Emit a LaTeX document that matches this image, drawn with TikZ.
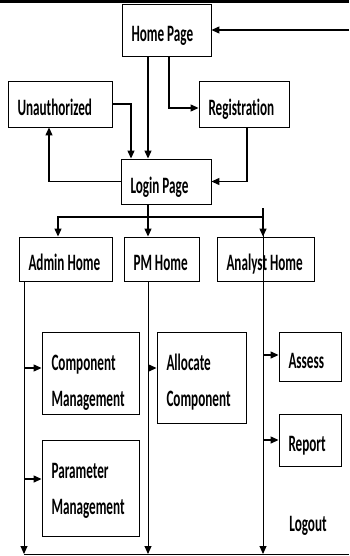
\documentclass[tikz,border=0pt]{standalone}
\usepackage{fontspec}
\newfontfamily\boxfont{Carlito}[FakeStretch=0.56,Ligatures=NoCommon]
\usetikzlibrary{arrows.meta}

\begin{document}
\begin{tikzpicture}[x=1pt,y=-1pt,>={Triangle[length=8pt,width=7pt]},
  font=\boxfont\bfseries\fontsize{23.5}{36}\selectfont,
  box/.style={draw,line width=0.9pt,inner xsep=9.5pt,align=flush left,text height=23pt,text depth=0pt},
  bigbox/.style={draw,line width=0.9pt,inner xsep=9.5pt,align=flush left,text height=14pt,text depth=34pt},
  link/.style={->,line width=1.3pt},
  trunk/.style={->,line width=1pt}]
\useasboundingbox (0,0) rectangle (349,556);
% frame line at the top
\draw[line width=2.5pt] (0,1.5) -- (349,1.5);
% pages
\node[box,text width=70pt,minimum height=52pt] (home) at (166.5,30) {Home Page};
\node[box,text width=85pt,minimum height=46pt] (unauth) at (60,104) {Unauthorized};
\node[box,text width=71pt,minimum height=46pt] (reg) at (244,104) {Registration};
\node[box,text width=71pt,minimum height=45pt] (login) at (166,181.5) {Login Page};
\node[box,text width=74pt,minimum height=44pt] (admin) at (65.5,259) {Admin Home};
\node[box,text width=56pt,minimum height=44pt] (pm) at (161.5,259) {PM Home};
\node[box,text width=78pt,minimum height=44pt] (analyst) at (265.5,259) {Analyst Home};
\node[bigbox,text width=78pt,minimum height=82pt,text depth=20pt] (comp) at (90.5,373) {Component\\Management};
\node[bigbox,text width=70pt,minimum height=91pt,text depth=29pt] (alloc) at (201.5,377.5) {Allocate\\Component};
\node[bigbox,text width=78pt,minimum height=96pt] (param) at (90.5,488) {Parameter\\Management};
\node[box,text width=43pt,minimum height=49pt] (assess) at (310,356.5) {Assess};
\node[box,text width=43pt,minimum height=52pt] (report) at (310,440) {Report};
\node (logout) at (308,526) {Logout};
% top part
\coordinate (rin) at (349,30);
\coordinate (hs) at ([xshift=-18.5pt]home.south);
\draw[link] (rin) -- (home.east);
\draw[link] (hs) -- (hs |- login.north);
\draw[link] ([xshift=2.5pt]home.south) |- ([yshift=-4pt]reg.west);
\draw[link] (unauth.east) -| ([xshift=-35pt]login.north);
\draw[link] ([xshift=3pt]reg.south) |- (login.east);
\draw[link] (login.west) -| ([xshift=-11pt]unauth.south);
% split to the three homes
\coordinate (split) at (148,217);
\coordinate (t3) at (263,208);
\draw[link] ([xshift=-18pt]login.south) -- ([xshift=-13.5pt]pm.north);
\draw[link] (split) -| ([xshift=-7.5pt]admin.north);
\draw[line width=1.3pt] (split) -- (split -| t3);
\draw[link] (t3) -- ([xshift=-2.5pt]analyst.north);
% trunks down to the bottom line
\coordinate (t1) at ([xshift=-41.5pt]admin.south);
\coordinate (t2) at ([xshift=-13.5pt]pm.south);
\coordinate (bl) at (24,554);
\coordinate (br) at (349,554);
\foreach \t in {t1,t2,t3}
  \draw[trunk] (\t) -- (\t |- bl);
\draw[line width=1pt] (bl) -- (br);
% side branches
\coordinate (b1) at ([yshift=5pt]comp.west);
\coordinate (b2) at ([yshift=9pt]param.west);
\coordinate (b3) at ([yshift=9.5pt]alloc.west);
\coordinate (b4) at ([yshift=1.5pt]assess.west);
\draw[link] (b1 -| t1) -- (b1);
\draw[link] (b2 -| t1) -- (b2);
\draw[link] (b3 -| t2) -- (b3);
\draw[link] (b4 -| t3) -- (b4);
\draw[link] (report.west -| t3) -- (report.west);
\end{tikzpicture}
\end{document}
